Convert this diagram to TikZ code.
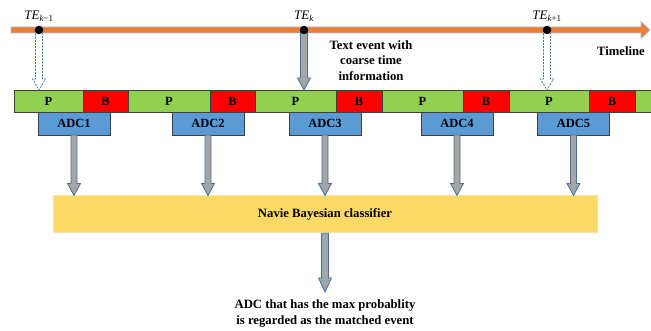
\documentclass[tikz,border=0pt]{standalone}
\usepackage{fontspec}
\setmainfont{Liberation Serif}
\usetikzlibrary{calc}
\definecolor{tlorange}{HTML}{ED7D31}
\definecolor{tlline}{HTML}{9DC3E6}
\definecolor{pgreen}{HTML}{92D050}
\definecolor{bred}{HTML}{FF0000}
\definecolor{adcblue}{HTML}{5B9BD5}
\definecolor{nbyellow}{HTML}{FFD966}
\definecolor{nbline}{HTML}{F2E3A6}
\definecolor{agray}{HTML}{A5A5A5}
\definecolor{aline}{HTML}{41719C}
\definecolor{dline}{HTML}{2E75B6}
\definecolor{segline}{HTML}{404040}
\tikzset{
  seg/.style={draw=segline, line width=0.8pt, inner sep=0pt, outer sep=0pt, minimum height=22pt, anchor=north west, font=\bfseries\fontsize{12.5}{12.5}\selectfont},
  pseg/.style={seg, fill=pgreen},
  bseg/.style={seg, fill=bred},
  adcbox/.style={draw=segline, line width=0.8pt, fill=adcblue, inner sep=0pt, outer sep=0pt, minimum width=72pt, minimum height=23pt, anchor=north, font=\bfseries\fontsize{12.5}{12.5}\selectfont},
  dot/.style={circle, fill=black, inner sep=0pt, minimum size=8.5pt},
  telabel/.style={anchor=base, font=\fontsize{13}{13}\selectfont},
  lbl/.style={align=center, font=\bfseries\fontsize{12.7}{15.5}\selectfont, inner sep=0pt},
  fatgray/.style={fill=agray, draw=aline, line width=0.8pt},
  fatdash/.style={fill=white, draw=dline, line width=0.7pt, dash pattern=on 2pt off 1.2pt},
}
% #1 style, #2 start point (x and y), #3 end (y only), #4 shaft half width, #5 head half width, #6 head length
\newcommand\vblockarrow[6]{%
  \draw[#1] let \p1=(#2), \p2=(#3) in
    (\x1-#4,\y1) -- (\x1+#4,\y1) -- (\x1+#4,\y2+#6) -- (\x1+#5,\y2+#6) -- (\x1,\y2)
    -- (\x1-#5,\y2+#6) -- (\x1-#4,\y2+#6) -- cycle;}
\newcommand\TE[1]{{\itshape TE}\textsubscript{\fontsize{9}{9}\selectfont #1}}
\begin{document}
\begin{tikzpicture}[x=1pt,y=-1pt]
\useasboundingbox (0,0) rectangle (651,331);
% timeline
\coordinate (tl0) at (11,30);
\coordinate (tl1) at (650,30);
\draw[fill=tlorange, draw=tlline, line width=0.6pt] let \p1=(tl0), \p2=(tl1) in
  (\x1,\y1+3) -- (\x2-9,\y1+3) -- (\x2-9,\y1+8.5) -- (\x2,\y1) -- (\x2-9,\y1-8.5)
  -- (\x2-9,\y1-3) -- (\x1,\y1-3) -- cycle;
\node[anchor=base, lbl] (tlabel) at (621,56) {Timeline};
% bar segments
\node[pseg, minimum width=69pt] (p1) at (14,90) {P};
\node[bseg, minimum width=45pt] (b1) at (83,90) {B};
\node[pseg, minimum width=82pt] (p2) at (128,90) {P};
\node[bseg, minimum width=45pt] (b2) at (210,90) {B};
\node[pseg, minimum width=81pt] (p3) at (255,90) {P};
\node[bseg, minimum width=46pt] (b3) at (336,90) {B};
\node[pseg, minimum width=81pt] (p4) at (382,90) {P};
\node[bseg, minimum width=46pt] (b4) at (463,90) {B};
\node[pseg, minimum width=80pt] (p5) at (509,90) {P};
\node[bseg, minimum width=46pt] (b5) at (589,90) {B};
\node[pseg, minimum width=16pt] (p6) at (635,90) {};
% dots and arrows down to the bar
\coordinate (d1) at (39,30);
\coordinate (d2) at (304,30);
\coordinate (d3) at (547,30);
\vblockarrow{fatdash}{d1}{p1.north}{3.5}{6.5}{11}
\vblockarrow{fatgray}{d2}{p3.north}{3.5}{6.5}{12}
\vblockarrow{fatdash}{d3}{p5.north}{3.5}{6.5}{11}
\node[dot] (te1) at (d1) {};
\node[dot] (te2) at (d2) {};
\node[dot] (te3) at (d3) {};
\node[telabel] (te1l) at (39,19.5) {\TE{\itshape k\upshape −1}};
\node[telabel] (te2l) at (304,19.5) {\TE{\itshape k}};
\node[telabel] (te3l) at (547,19.5) {\TE{\itshape k\upshape +1}};
\node[lbl, anchor=north] (txev) at (371,40) {Text event with\\coarse time\\information};
% ADC boxes
\node[adcbox] (adc1) at (74,112) {ADC1};
\node[adcbox] (adc2) at (208,112) {ADC2};
\node[adcbox] (adc3) at (325,112) {ADC3};
\node[adcbox] (adc4) at (457,112) {ADC4};
\node[adcbox] (adc5) at (573.5,112) {ADC5};
% classifier
\node[fill=nbyellow, draw=nbline, line width=0.8pt, minimum width=544pt, minimum height=37pt, inner sep=0pt, anchor=north, font=\bfseries\fontsize{12.7}{12.7}\selectfont] (nb) at (325,195.5) {Navie Bayesian classifier};
\foreach \a in {adc1,adc2,adc3,adc4,adc5}{
  \vblockarrow{fatgray}{\a.south}{nb.north}{3}{6.5}{12}
}
\coordinate (outend) at (325,292);
\vblockarrow{fatgray}{nb.south}{outend}{3.5}{6.5}{14}
\node[lbl, anchor=north] (res) at (325,299.5) {ADC that has the max probablity\\is regarded as the matched event};
\end{tikzpicture}
\end{document}
